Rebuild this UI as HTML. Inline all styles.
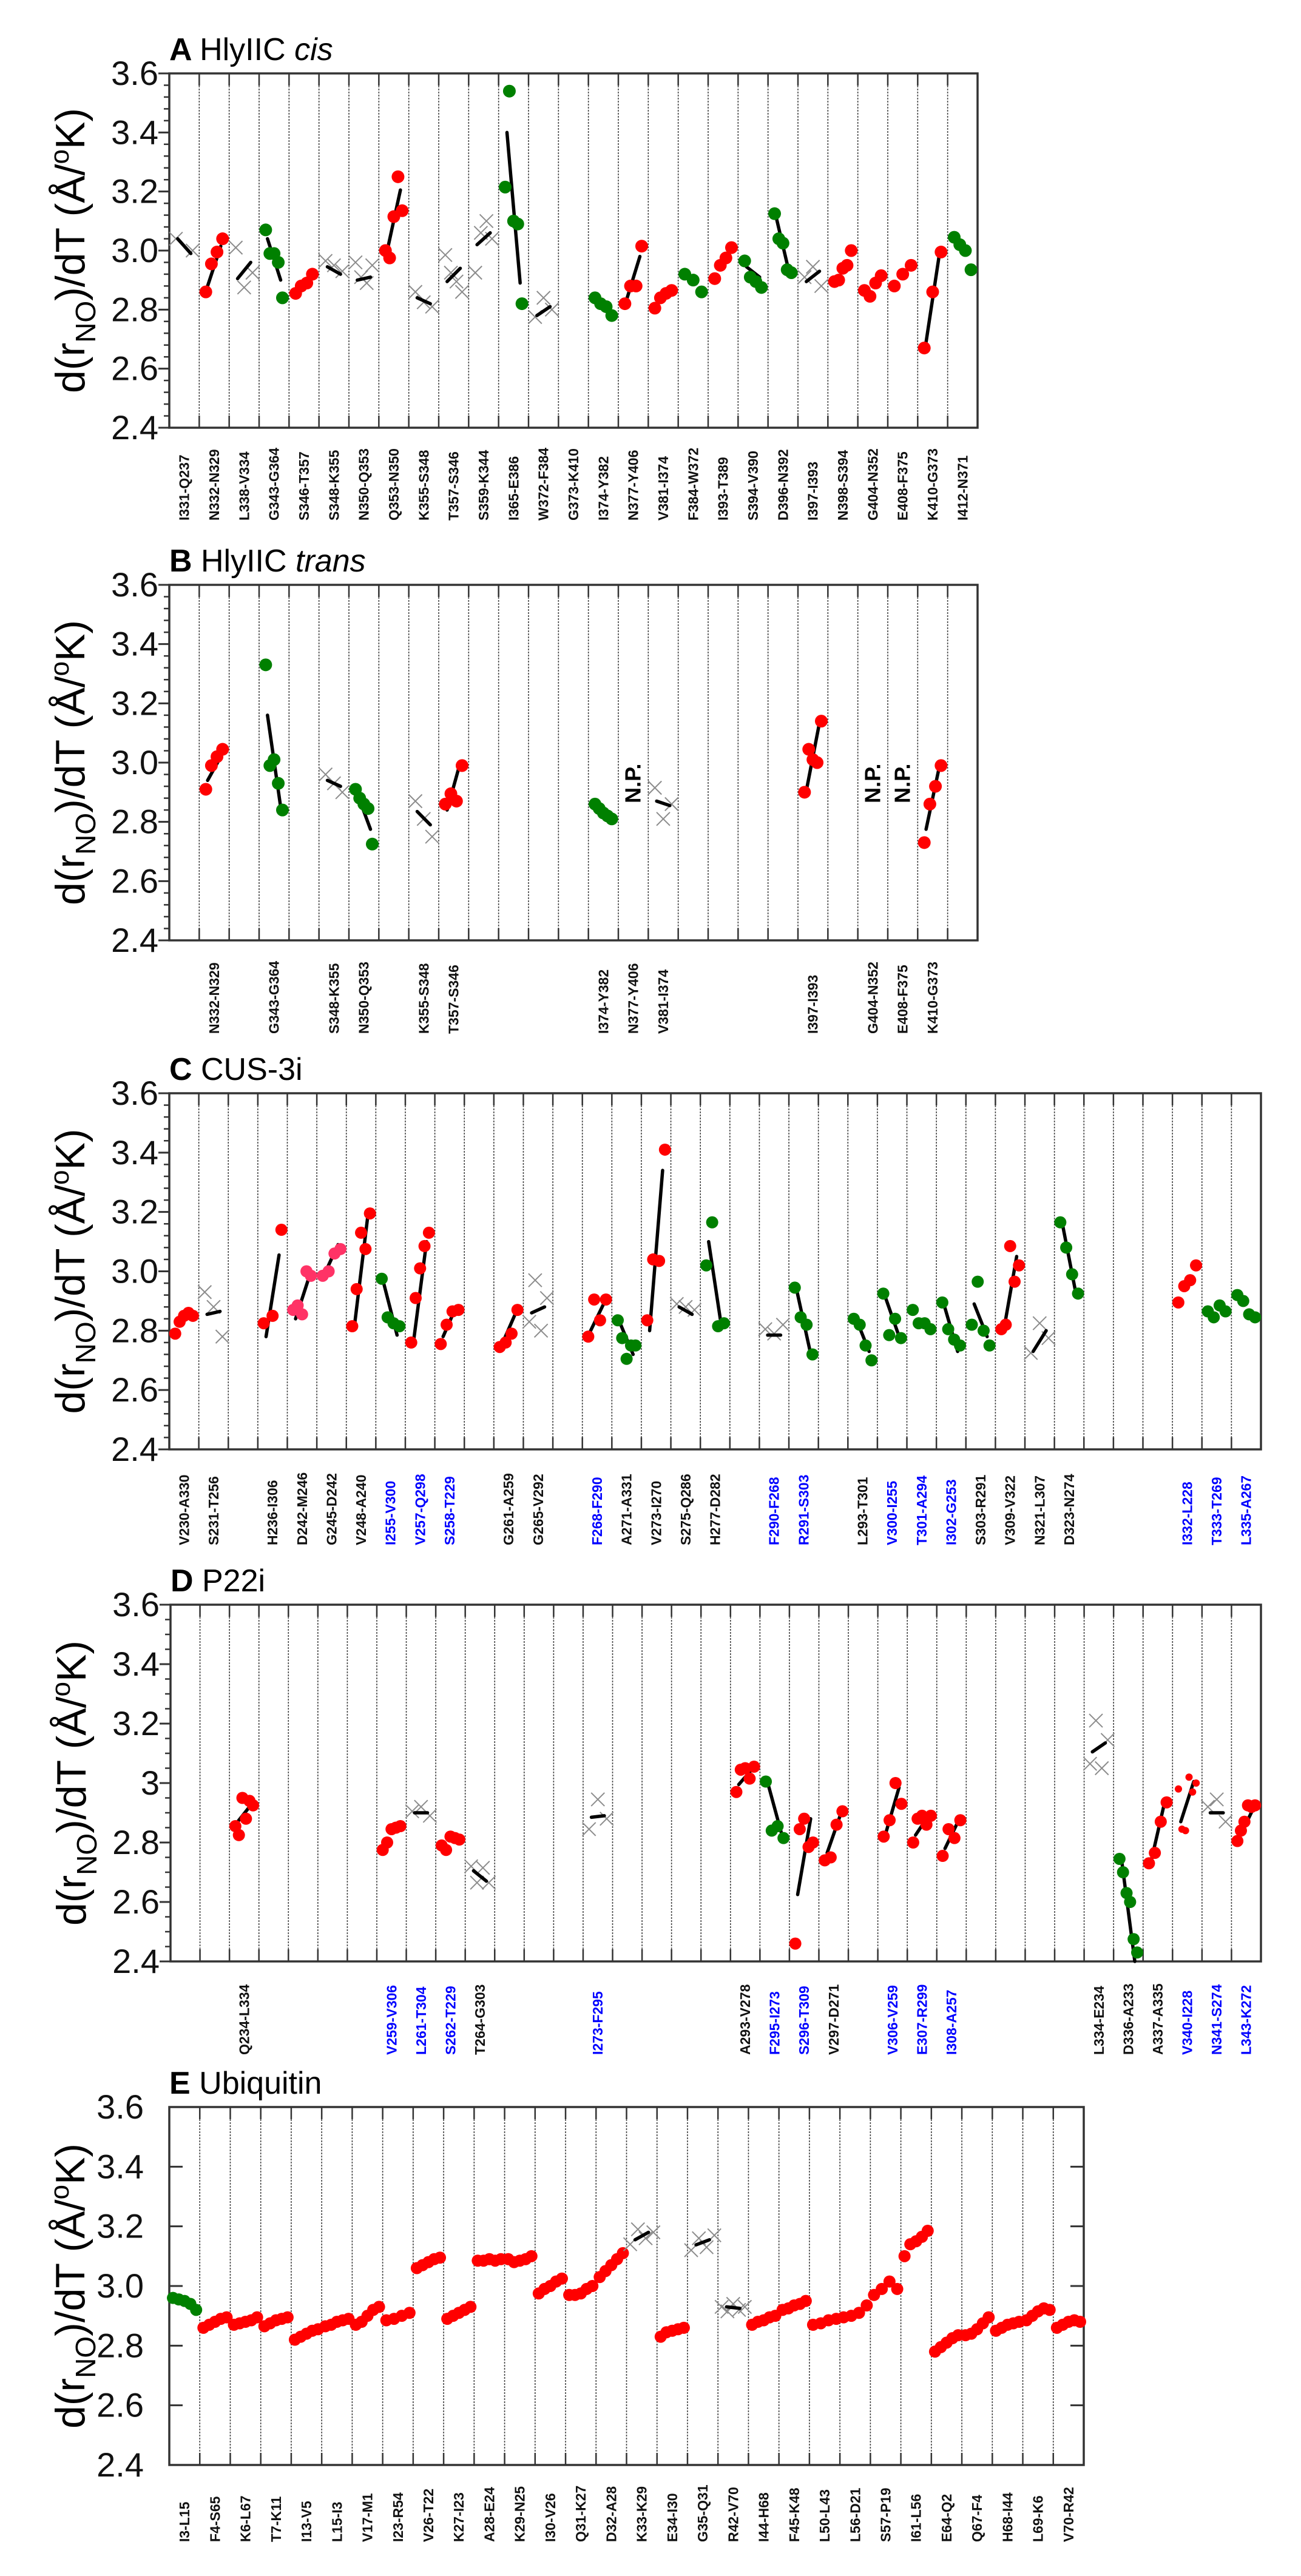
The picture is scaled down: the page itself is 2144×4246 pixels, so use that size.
<!DOCTYPE html>
<html>
<head>
<meta charset="utf-8">
<style>
  html,body{margin:0;padding:0;background:#fff;}
  svg{display:block;}
  text{font-family:"Liberation Sans",Arial,sans-serif;}
</style>
</head>
<body>
<svg id="fig" xmlns="http://www.w3.org/2000/svg" width="2144" height="4246" viewBox="0 0 2144 4246"></svg>
<script>
// ---------- Panel A: HlyIIC cis ----------
const aLabels = ["I331-Q237","N332-N329","L338-V334","G343-G364","S346-T357","S348-K355","N350-Q353","Q353-N350","K355-S348","T357-S346","S359-K344","I365-E386","W372-F384","G373-K410","I374-Y382","N377-Y406","V381-I374","F384-W372","I393-T389","S394-V390","D396-N392","I397-I393","N398-S394","G404-N352","E408-F375","K410-G373","I412-N371"];
const aKinds = ["x","r","x","g","r","x","x","r","x","x","x","g","x","","g","r","r","g","r","g","g","x","r","r","r","r","g"];
const aValues = [[3.04,3.0],[2.86,2.955,2.995,3.04],[3.01,2.875,2.925],[3.07,2.99,2.99,2.96,2.84],[2.855,2.88,2.89,2.92],[2.965,2.95,2.93],[2.96,2.91,2.89,2.95],[3.0,2.975,3.115,3.25,3.135],[2.86,2.825,2.81],[2.985,2.925,2.895,2.86],[2.925,3.06,3.1,3.04],[3.215,3.54,3.1,3.09,2.82],[2.775,2.84,2.8],[],[2.84,2.82,2.81,2.78],[2.82,2.88,2.88,3.015],[2.805,2.84,2.855,2.865],[2.92,2.9,2.86],[2.905,2.95,2.975,3.01],[2.965,2.91,2.895,2.875],[3.125,3.04,3.025,2.935,2.925],[2.91,2.945,2.88],[2.895,2.9,2.94,2.95,3.0],[2.865,2.845,2.89,2.915],[2.88,2.92,2.95],[2.67,2.86,2.995],[3.045,3.02,3.0,2.935]];
const aFitStart = [3.04,2.88,2.905,3.04,null,2.945,2.9,3.0,2.84,2.895,3.02,3.4,2.78,null,null,2.835,null,null,null,2.945,3.11,2.895,null,null,null,2.69,null];
const aFitEnd   = [2.99,3.015,2.96,2.9,null,2.92,2.91,3.205,2.82,2.94,3.06,2.89,2.81,null,null,2.98,null,null,null,2.91,2.92,2.93,null,null,null,2.985,null];

// ---------- Panel B: HlyIIC trans ----------
const bLabels = ["","N332-N329","","G343-G364","","S348-K355","N350-Q353","","K355-S348","T357-S346","","","","","I374-Y382","N377-Y406","V381-I374","","","","","I397-I393","","G404-N352","E408-F375","K410-G373",""];
const bKinds = ["","r","","g","","x","g","","x","r","","","","","g","","x","","","","","r","","","","r",""];
const bValues = [[],[2.91,2.99,3.02,3.045],[],[3.33,2.99,3.01,2.93,2.84],[],[2.96,2.93,2.90],[2.91,2.88,2.86,2.845,2.725],[],[2.87,2.81,2.75],[2.86,2.895,2.87,2.99],[],[],[],[],[2.86,2.845,2.83,2.82,2.81],[],[2.915,2.81,2.86],[],[],[],[],[2.9,3.045,3.01,3.0,3.14],[],[],[],[2.73,2.86,2.92,2.99],[]];
const bFitStart = [null,2.94,null,3.16,null,2.94,2.895,null,2.835,2.84,null,null,null,null,null,null,2.87,null,null,null,null,2.905,null,null,null,2.775,null];
const bFitEnd   = [null,3.02,null,2.85,null,2.92,2.775,null,2.79,3.0,null,null,null,null,null,null,2.855,null,null,null,null,3.135,null,null,null,2.985,null];
const bNotPresent = [15,23,24];

// ---------- Panel C: CUS-3i ----------
const cLabels = ["V230-A330","S231-T256","","H236-I306","D242-M246","G245-D242","V248-A240","I255-V300","V257-Q298","S258-T229","","G261-A259","G265-V292","","F268-F290","A271-A331","V273-I270","S275-Q286","H277-D282","","F290-F268","R291-S303","","L293-T301","V300-I255","T301-A294","I302-G253","S303-R291","V309-V322","N321-L307","D323-N274","","","","I332-L228","T333-T269","L335-A267"];
const cBlue = [0,0,0,0,0,0,0,1,1,1,0,0,0,0,1,0,0,0,0,0,1,1,0,0,1,1,1,0,0,0,0,0,0,0,1,1,1];
const cKinds = ["r","x","","r","p","p","r","g","r","r","","r","x","","r","g","r","x","g","","x","g","","g","g","g","g","g","r","x","g","","","","r","g","g"];
const cValues = [[2.79,2.83,2.85,2.86,2.85],[2.93,2.88,2.78],[],[2.825,2.85,3.14],[2.87,2.885,2.855,3.0,2.985],[2.985,3.0,3.06,3.075],[2.815,2.94,3.13,3.075,3.195],[2.975,2.845,2.825,2.815],[2.76,2.91,3.01,3.085,3.13],[2.755,2.82,2.865,2.87],[],[2.745,2.76,2.79,2.87],[2.83,2.97,2.8,2.91],[],[2.78,2.905,2.835,2.905],[2.835,2.775,2.705,2.75,2.75],[2.835,3.04,3.035,3.41],[2.89,2.88,2.87],[3.02,3.165,2.815,2.825],[],[2.805,2.79,2.82],[2.945,2.845,2.82,2.72],[],[2.84,2.82,2.75,2.70],[2.925,2.785,2.84,2.775],[2.87,2.825,2.825,2.805],[2.895,2.805,2.77,2.75],[2.82,2.965,2.8,2.75],[2.805,2.82,3.085,2.965,3.02],[2.725,2.825,2.775],[3.165,3.08,2.99,2.925],[],[],[],[2.895,2.95,2.97,3.02],[2.865,2.845,2.885,2.865],[2.92,2.9,2.855,2.845]];
const cFitStart = [null,2.855,null,2.78,2.84,2.995,2.82,2.955,2.765,2.78,null,2.755,2.86,null,2.8,2.825,2.8,2.88,3.1,null,2.785,2.93,null,2.84,2.91,null,2.88,2.89,2.8,2.73,3.155,null,null,null,null,null,null];
const cFitEnd   = [null,2.865,null,3.055,2.975,3.09,3.18,2.785,3.1,2.88,null,2.855,2.88,null,2.89,2.72,3.34,2.855,2.81,null,2.785,2.73,null,2.73,2.785,null,2.73,2.78,3.05,2.8,2.93,null,null,null,null,null,null];

// ---------- Panel D: P22i ----------
const dLabels = ["","","Q234-L334","","","","","V259-V306","L261-T304","S262-T229","T264-G303","","","","I273-F295","","","","","A293-V278","F295-I273","S296-T309","V297-D271","","V306-V259","E307-R299","I308-A257","","","","","L334-E234","D336-A233","A337-A335","V340-I228","N341-S274","L343-K272"];
const dBlue = [0,0,0,0,0,0,0,1,1,1,0,0,0,0,1,0,0,0,0,0,1,1,0,0,1,1,1,0,0,0,0,0,0,0,1,1,1];
const dKinds = ["","","r","","","","","r","x","r","x","","","","x","","","","","r","g","r","r","","r","r","r","","","","","x","g","r","s","x","r"];
const dValues = [[],[],[2.855,2.825,2.95,2.88,2.94,2.925],[],[],[],[],[2.775,2.8,2.845,2.85,2.855],[2.905,2.92,2.89],[2.79,2.775,2.82,2.815,2.81],[2.72,2.665,2.715,2.665],[],[],[],[2.845,2.945,2.88],[],[],[],[],[2.97,3.045,3.05,3.015,3.055],[3.005,2.84,2.855,2.815],[2.46,2.845,2.88,2.785,2.8],[2.74,2.75,2.86,2.905],[],[2.82,2.875,3.0,2.93],[2.8,2.88,2.89,2.86,2.89],[2.755,2.845,2.815,2.875],[],[],[],[],[3.065,3.21,3.05,3.145],[2.745,2.7,2.63,2.6,2.475,2.43],[2.73,2.765,2.87,2.935],[2.98,2.845,2.84,3.02,2.97,3.0],[2.92,2.945,2.87],[2.805,2.84,2.87,2.925,2.92,2.925]];
const dFitStart = [null,null,2.87,null,null,null,null,null,2.9,null,2.705,null,null,null,2.885,null,null,null,null,2.995,2.995,2.625,2.765,null,2.835,2.825,2.78,null,null,null,null,3.105,2.735,2.74,2.87,2.9,2.82];
const dFitEnd   = [null,null,2.925,null,null,null,null,null,2.9,null,2.67,null,null,null,2.89,null,null,null,null,3.045,2.835,2.88,2.89,null,2.985,2.89,2.87,null,null,null,null,3.135,2.4,2.93,3.005,2.9,2.91];

// ---------- Panel E: Ubiquitin ----------
const eLabels = ["I3-L15","F4-S65","K6-L67","T7-K11","I13-V5","L15-I3","V17-M1","I23-R54","V26-T22","K27-I23","A28-E24","K29-N25","I30-V26","Q31-K27","D32-A28","K33-K29","E34-I30","G35-Q31","R42-V70","I44-H68","F45-K48","L50-L43","L56-D21","S57-P19","I61-L56","E64-Q2","Q67-F4","H68-I44","L69-K6","V70-R42"];
const eKinds = ["g","r","r","r","r","r","r","r","r","r","r","r","r","r","r","x","r","x","x","r","r","r","r","r","r","r","r","r","r","r"];
const eValues = [[2.96,2.955,2.95,2.94,2.92],[2.86,2.87,2.88,2.89,2.895],[2.87,2.875,2.88,2.885,2.895],[2.865,2.875,2.885,2.89,2.895],[2.82,2.83,2.84,2.85,2.855],[2.865,2.87,2.88,2.885,2.89],[2.87,2.88,2.9,2.92,2.93],[2.885,2.89,2.9,2.91],[3.06,3.07,3.08,3.09,3.095],[2.89,2.9,2.91,2.92,2.93],[3.085,3.085,3.09,3.085,3.09],[3.09,3.08,3.085,3.09,3.1],[2.975,2.99,3.0,3.015,3.025],[2.97,2.97,2.975,2.99,3.0],[3.03,3.05,3.07,3.09,3.11],[3.14,3.19,3.16,3.18],[2.83,2.845,2.85,2.855,2.86],[3.12,3.16,3.13,3.17],[2.93,2.915,2.94,2.92,2.93],[2.87,2.88,2.885,2.895,2.9],[2.92,2.925,2.935,2.94,2.95],[2.87,2.875,2.885,2.89],[2.895,2.9,2.91,2.935],[2.97,2.99,3.015,2.99],[3.1,3.14,3.15,3.165,3.185],[2.78,2.795,2.81,2.825,2.835],[2.835,2.84,2.855,2.875,2.895],[2.85,2.86,2.87,2.875,2.88],[2.885,2.9,2.915,2.925,2.92],[2.86,2.87,2.88,2.885,2.88]];
const eFitStart = [null,null,null,null,null,null,null,null,null,null,null,null,null,null,null,3.155,null,3.138,2.93,null,null,null,null,null,null,null,null,null,null,null];
const eFitEnd   = [null,null,null,null,null,null,null,null,null,null,null,null,null,null,null,3.18,null,3.155,2.925,null,null,null,null,null,null,null,null,null,null,null];

const yTicks = [3.6,3.4,3.2,3.0,2.8,2.6,2.4];
const yTickLabels = ["3.6","3.4","3.2","3.0","2.8","2.6","2.4"];
const yTickLabelsD = ["3.6","3.4","3.2","3","2.8","2.6","2.4"];

const NS = "http://www.w3.org/2000/svg";
const svg = document.getElementById("fig");
function mk(tag, attrs, parent){
  const e = document.createElementNS(NS, tag);
  for (const k in attrs) e.setAttribute(k, attrs[k]);
  (parent||svg).appendChild(e);
  return e;
}
const COLORS = {r:"#ff0000", g:"#008000", p:"#ff3366", s:"#ff0000"};

function drawPanel(cfg){
  const g = mk("g",{});
  
  
  const n = cfg.labels.length;
  const W = (cfg.x1 - cfg.x0) / n;
  const yScale = v => cfg.y0 + (3.6 - v) / 1.2 * (cfg.y1 - cfg.y0);
  const xCol = (i, f) => cfg.x0 + (i + f) * W;

  const t = mk("text",{x:cfg.x0, y:cfg.y0-22, "font-size":52}, g);
  
  
  const t1 = mk("tspan",{"font-weight":"bold"}, t); t1.textContent = cfg.letter + " ";
  const t2 = mk("tspan",{}, t); t2.textContent = cfg.title1;
  if (cfg.title2){ const t3 = mk("tspan",{"font-style":"italic"}, t); t3.textContent = " " + cfg.title2; }

  const cy = (cfg.y0 + cfg.y1)/2;
  const yt = mk("text",{x:0,y:0,"font-size":68,"text-anchor":"middle",transform:`translate(${cfg.x0-140},${cy}) rotate(-90)`}, g);
  
  
  const a1 = mk("tspan",{},yt); a1.textContent = "d(r";
  const a2 = mk("tspan",{"font-size":46,dy:18},yt); a2.textContent = "NO";
  const a3 = mk("tspan",{dy:-18},yt); a3.textContent = ")/dT (Å/";
  const a4 = mk("tspan",{"font-size":44,dy:-26},yt); a4.textContent = "o";
  const a5 = mk("tspan",{dy:26},yt); a5.textContent = "K)";

  for (let i=1;i<n;i++){
    const x = cfg.x0 + i*W;
    const gl = mk("line",{x1:x,y1:cfg.y0,x2:x,y2:cfg.y1,stroke:"#444","stroke-width":1.6,"stroke-dasharray":"3,2"}, g);
    
    
    mk("line",{x1:x,y1:cfg.y0,x2:x,y2:cfg.y0+20,stroke:"#333","stroke-width":2.5}, g);
    mk("line",{x1:x,y1:cfg.y1-20,x2:x,y2:cfg.y1,stroke:"#333","stroke-width":2.5}, g);
  }
  const fr = mk("rect",{x:cfg.x0,y:cfg.y0,width:cfg.x1-cfg.x0,height:cfg.y1-cfg.y0,fill:"none",stroke:"#333","stroke-width":3.5}, g);
  
  

  const minorStep = cfg.minor;
  if (minorStep){
    for (let v=2.4; v<=3.6001; v+=minorStep){
      const y = yScale(v);
      mk("line",{x1:cfg.x0-9,y1:y,x2:cfg.x0,y2:y,stroke:"#333","stroke-width":2.5}, g);
    }
  }
  yTicks.forEach((v,k)=>{
    const y = yScale(v);
    if (cfg.inward){
      mk("line",{x1:cfg.x0,y1:y,x2:cfg.x0+22,y2:y,stroke:"#333","stroke-width":3}, g);
      mk("line",{x1:cfg.x1-22,y1:y,x2:cfg.x1,y2:y,stroke:"#333","stroke-width":3}, g);
    } else {
      mk("line",{x1:cfg.x0-18,y1:y,x2:cfg.x0,y2:y,stroke:"#333","stroke-width":3}, g);
    }
    const tl = mk("text",{x:cfg.inward?cfg.x0-42:cfg.x0-18,y:y+19,"font-size":56,"text-anchor":"end",fill:"#111"}, g);
    
    
    tl.textContent = cfg.tickLabels[k];
  });

  cfg.labels.forEach((lab,i)=>{
    if (!lab) return;
    const x = xCol(i,0.5)+8;
    const tx = mk("text",{x:0,y:0,"font-size":cfg.labelSize,"font-weight":"bold","text-anchor":"start",fill:(cfg.blue && cfg.blue[i])?"#0000ff":"#111",transform:`translate(${x},${cfg.labelBase}) rotate(-90)`}, g);
    
    
    tx.textContent = lab;
  });

  cfg.values.forEach((vals,i)=>{
    const kind = cfg.kinds[i];
    if (!kind || !vals.length) return;
    const m = vals.length;
    const f0 = cfg.spread[0], f1 = cfg.spread[1];
    const fs = cfg.fitStart[i], fe = cfg.fitEnd[i];
    const drawFit = () => {
      if (fs==null || fe==null) return;
      const fl = mk("line",{x1:xCol(i,0.28),y1:yScale(fs),x2:xCol(i,0.72),y2:yScale(fe),stroke:"#000","stroke-width":5.5,"stroke-linecap":"round"}, g);
      
      
    };
    if (kind !== "x") drawFit();
    vals.forEach((v,j)=>{
      const f = m===1 ? 0.5 : f0 + (f1-f0)*j/(m-1);
      const x = xCol(i,f), y = yScale(v);
      if (kind === "x"){
        const s = 11;
        const xm = mk("path",{d:`M${x-s},${y-s}L${x+s},${y+s}M${x-s},${y+s}L${x+s},${y-s}`,stroke:"#8c8c8c","stroke-width":2,fill:"none"}, g);
        
        
      } else {
        const c = mk("circle",{cx:x,cy:y,r:kind==="s"?6:cfg.r,fill:COLORS[kind]}, g);
        
        
      }
    });
    if (kind === "x") drawFit();
  });

  (cfg.np||[]).forEach(i=>{
    const x = xCol(i,0.5)+12;
    const np = mk("text",{x:0,y:0,"font-size":36,"font-weight":"bold","text-anchor":"middle",fill:"#000",transform:`translate(${x},${yScale(2.93)}) rotate(-90)`}, g);
    
    
    np.textContent = "N.P.";
  });
}

drawPanel({name:"panel-a-hlyiic-cis",letter:"A",title1:"HlyIIC",title2:"cis",x0:279,x1:1611,y0:121,y1:705,labels:aLabels,kinds:aKinds,values:aValues,fitStart:aFitStart,fitEnd:aFitEnd,tickLabels:yTickLabels,minor:0.04,labelBase:858,labelSize:23,spread:[0.22,0.78],r:10.5});
drawPanel({name:"panel-b-hlyiic-trans",letter:"B",title1:"HlyIIC",title2:"trans",x0:279,x1:1611,y0:964,y1:1550,labels:bLabels,kinds:bKinds,values:bValues,fitStart:bFitStart,fitEnd:bFitEnd,tickLabels:yTickLabels,minor:0.04,labelBase:1704,labelSize:23,spread:[0.22,0.78],r:10.5,np:bNotPresent});
drawPanel({name:"panel-c-cus3i",letter:"C",title1:"CUS-3i",x0:279,x1:2078,y0:1802,y1:2389,labels:cLabels,blue:cBlue,kinds:cKinds,values:cValues,fitStart:cFitStart,fitEnd:cFitEnd,tickLabels:yTickLabels,minor:0.04,labelBase:2547,labelSize:23,spread:[0.2,0.8],r:10});
drawPanel({name:"panel-d-p22i",letter:"D",title1:"P22i",x0:281,x1:2078,y0:2645,y1:3233,labels:dLabels,blue:dBlue,kinds:dKinds,values:dValues,fitStart:dFitStart,fitEnd:dFitEnd,tickLabels:yTickLabelsD,minor:0.05,labelBase:3387,labelSize:23,spread:[0.2,0.8],r:10});
drawPanel({name:"panel-e-ubiquitin",letter:"E",title1:"Ubiquitin",x0:279,x1:1786,y0:3473,y1:4063,labels:eLabels,kinds:eKinds,values:eValues,fitStart:eFitStart,fitEnd:eFitEnd,tickLabels:yTickLabels,minor:0,inward:true,labelBase:4190,labelSize:23,spread:[0.12,0.88],r:10});
</script>
</body>
</html>
